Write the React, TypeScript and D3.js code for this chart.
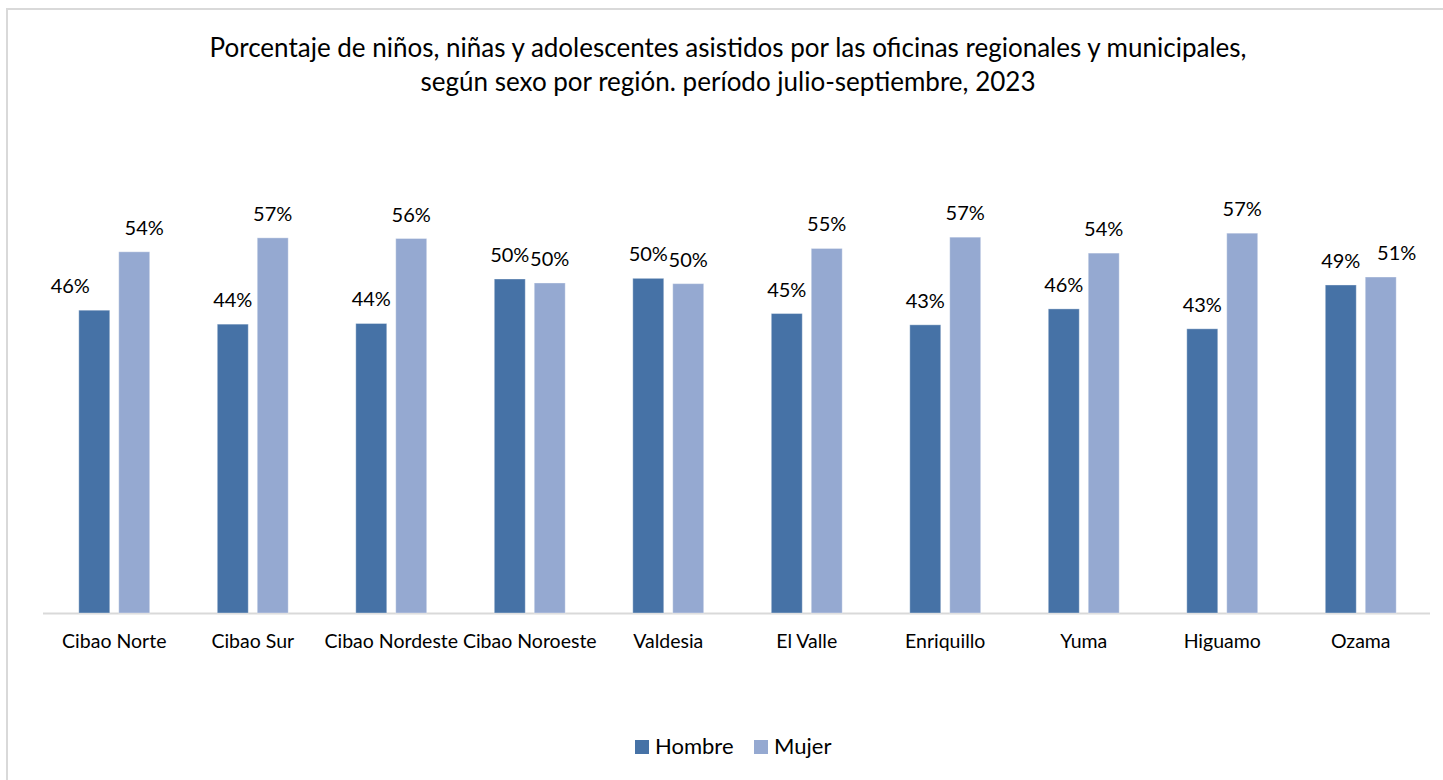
import React from "react";
import * as d3 from "d3";

const categories = [
  "Cibao Norte",
  "Cibao Sur",
  "Cibao Nordeste",
  "Cibao Noroeste",
  "Valdesia",
  "El Valle",
  "Enriquillo",
  "Yuma",
  "Higuamo",
  "Ozama",
];
// percentages
const hombre = [45.6, 43.5, 43.6, 50.3, 50.4, 45.1, 43.4, 45.8, 42.8, 49.4];
const mujer = [54.4, 56.5, 56.4, 49.7, 49.6, 54.9, 56.6, 54.2, 57.2, 50.6];
const seriesNames = ["Hombre", "Mujer"];
const titleLines = [
  "Porcentaje de niños, niñas y adolescentes asistidos por las oficinas regionales y municipales,",
  "según sexo por región. período julio-septiembre, 2023",
];

// label nudges (px) for a few hand-placed data labels in the original
const labelNudge: Record<string, number> = {
  "Hombre-Cibao Norte": -24,
  "Mujer-Cibao Norte": 10,
  "Mujer-Ozama": 16,
};

const W = 1443;
const H = 780;
const FONT = "Lato, 'Noto Sans', sans-serif";
const colors: Record<string, string> = { Hombre: "#4672A6", Mujer: "#95A9D1" };

export default function App() {
  const baseY = 613;
  const x0 = d3.scaleBand<string>().domain(categories).range([45, 1430]).paddingInner(0).paddingOuter(0);
  const bw = x0.bandwidth();
  const x1 = d3
    .scaleBand<string>()
    .domain(seriesNames)
    .range([bw * 0.244, bw * 0.756])
    .paddingInner(0.225)
    .paddingOuter(0);
  const y = d3.scaleLinear().domain([0, 60]).range([baseY, baseY - 0.6 * 664]);
  const fmt = (v: number) => `${Math.round(v)}%`;
  const data: Record<string, number[]> = { Hombre: hombre, Mujer: mujer };

  return (
    <svg
      width={W}
      height={H}
      style={{ position: "absolute", left: 0, top: 0, background: "#fff" }}
      fontFamily={FONT}
    >
      <rect x={7} y={9} width={W + 10} height={H + 10} fill="#fff" stroke="#d9d9d9" strokeWidth={2} />
      <g textAnchor="middle" fontSize={26} fill="#000">
        {titleLines.map((t, i) => (
          <text key={i} x={728} y={57 + i * 34}>
            {t}
          </text>
        ))}
      </g>
      <line x1={43} x2={1430} y1={baseY + 0.5} y2={baseY + 0.5} stroke="#d9d9d9" strokeWidth={2} />
      {seriesNames.map((s) =>
        categories.map((c, i) => {
          const v = data[s][i];
          const bx = (x0(c) as number) + (x1(s) as number);
          const top = y(v);
          return (
            <g key={s + c}>
              <rect
                x={bx}
                y={top}
                width={x1.bandwidth()}
                height={baseY - top}
                fill={colors[s]}
                stroke="#ffffff"
                strokeOpacity={0.35}
                strokeWidth={1}
              />
              <text
                x={bx + x1.bandwidth() / 2 + (labelNudge[s + "-" + c] || 0)}
                y={top - 17}
                textAnchor="middle"
                fontSize={20}
                fill="#000"
              >
                {fmt(v)}
              </text>
            </g>
          );
        })
      )}
      <g textAnchor="middle" fontSize={19.5} fill="#000">
        {categories.map((c) => (
          <text key={c} x={(x0(c) as number) + bw / 2} y={648}>
            {c}
          </text>
        ))}
      </g>
      <g fontSize={22} fill="#000">
        {seriesNames.map((s, i) => {
          const lx = 635 + i * 119;
          return (
            <g key={s}>
              <rect x={lx} y={740} width={14} height={14} fill={colors[s]} />
              <text x={lx + 20} y={754}>
                {s}
              </text>
            </g>
          );
        })}
      </g>
    </svg>
  );
}
